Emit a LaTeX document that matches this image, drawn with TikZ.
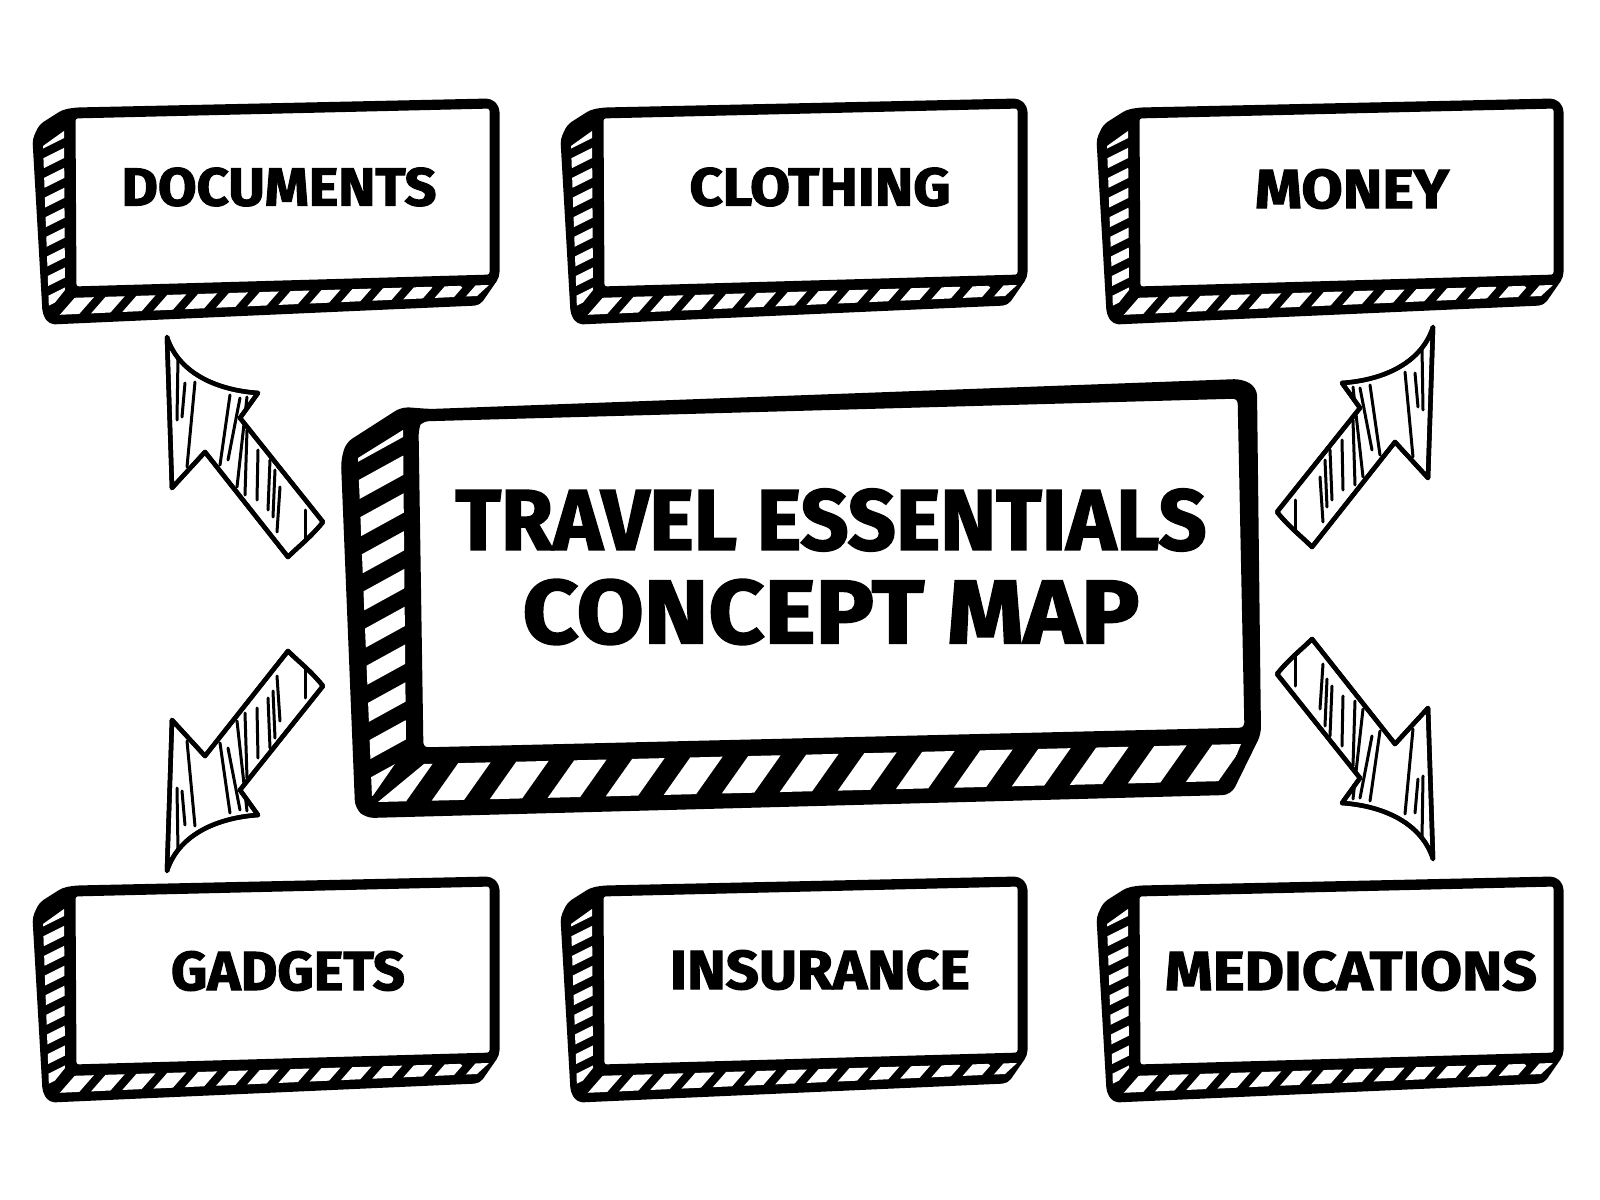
\documentclass[tikz,border=0pt]{standalone}
\usepackage{fontspec}
\usepackage{graphicx}
\newfontfamily\heavyfam{Fira Sans}[BoldFeatures={FakeBold=2}]
\newcommand\heavy{\heavyfam\bfseries}
\tikzset{
 outline/.style={draw=black, fill=black, line width=0.7mm, line join=round, rounded corners=0.4mm},
 face/.style={draw=black, fill=white, line width=0.7mm, line join=round, rounded corners=0.5mm},
 sidestripe/.style={draw=white, line width=0.9mm},
 botstripe/.style={draw=white, line width=1.4mm},
 arrowbody/.style={draw=black, fill=white, line width=0.45mm, line join=round},
 hatch/.style={draw=black, line width=0.3mm, line cap=round},
 lbl/.style={inner sep=0pt, font=\heavy},
}
\newcommand\smallbox[2]{%
\begin{scope}[shift={(#1,#2)}]
 \path[outline] (4,3) -- (-8,5) -- (-30,19) -- (-36,32) -- (-26,205) -- (-21,213) -- (406,194) -- (424,168) -- (424,0) -- (418,-6) -- cycle;
 \begin{scope}
  \clip (-29,38) -- (-8,23) -- (-7,182) -- (-23,202) -- cycle;
  \foreach \yy in {30,50,...,210} \draw[sidestripe] (-36,\yy+9) -- (0,\yy-9);
 \end{scope}
 \begin{scope}
  \clip (-4,190) -- (417,177) -- (405,188) -- (-17,207) -- cycle;
  \foreach \xx in {-40,-10,...,420} \draw[botstripe] (\xx,215) -- (\xx+35,175);
 \end{scope}
 \path[face] (0,7) -- (421,-3) -- (421,170) -- (1,182) -- cycle;
\end{scope}}
\newcommand\arrowpath{(167,337) .. controls (178,372) and (215,390) .. (258,393) -- (240,418) -- (323,522) .. controls (310,538) and (300,545) .. (288,557) -- (205,452) -- (172,488) -- cycle}
\newcommand\handarrow{%
 \path[arrowbody] \arrowpath;
 \begin{scope}
  \clip \arrowpath;
  \draw[hatch] (178,357) -- (177,420);
  \draw[hatch] (185,383) -- (182,417);
  \draw[hatch] (195,382) -- (187,467);
  \draw[hatch] (230,395) -- (220,465);
  \draw[hatch] (240,398) -- (228,460);
  \draw[hatch] (247,397) -- (237,487);
  \draw[hatch] (247,430) -- (245,495);
  \draw[hatch] (258,450) -- (257,500);
  \draw[hatch] (270,460) -- (268,510);
  \draw[hatch] (275,470) -- (273,517);
  \draw[hatch] (280,487) -- (277,532);
  \draw[hatch] (305,510) -- (305,542);
 \end{scope}
 \path[arrowbody, fill=none] \arrowpath;
}
\begin{document}
\begin{tikzpicture}[x=0.1mm, y=-0.1mm]
\fill[white] (0,0) rectangle (1600,1200);
\useasboundingbox (0,0) rectangle (1600,1200);

% small boxes
\smallbox{72}{108}
\smallbox{600}{108}
\smallbox{1136}{108}
\smallbox{72}{886}
\smallbox{600}{886}
\smallbox{1136}{886}

% main box
\path[outline, line width=1mm, rounded corners=0.6mm] (430,414) -- (403,412) -- (350,446) -- (346,462) -- (360,806) -- (368,813) -- (1228,790) -- (1256,733) -- (1252,390) -- (1240,384) -- cycle;
\begin{scope}
 \clip (358,458) -- (403,430) -- (406,748) -- (372,797) -- cycle;
 \foreach \yy in {440,478,...,840} \draw[white, line width=1.7mm] (340,\yy+22) -- (420,\yy-22);
\end{scope}
\begin{scope}
 \clip (378,802) -- (424,764) -- (1241,744) -- (1226,781) -- cycle;
 \foreach \xx in {320,377,...,1270} \draw[white, line width=2.6mm] (\xx,820) -- (\xx+60,735);
\end{scope}
\path[face, line width=1.1mm, rounded corners=1mm] (413,425) -- (418,416) -- (1243,393) -- (1250,733) -- (418,753) -- cycle;

% arrows
\begin{scope}\handarrow\end{scope}
\begin{scope}[shift={(1600,-10)}, xscale=-1]\handarrow\end{scope}
\begin{scope}[shift={(0,1208)}, yscale=-1]\handarrow\end{scope}
\begin{scope}[shift={(1600,1196)}, xscale=-1, yscale=-1]\handarrow\end{scope}

% labels
\node[lbl] (documents) at (279,187) {\resizebox{31.5mm}{3.8mm}{DOCUMENTS}};
\node[lbl] (clothing) at (820,187) {\resizebox{26.1mm}{3.8mm}{CLOTHING}};
\node[lbl] (money) at (1352,189) {\resizebox{19.4mm}{3.9mm}{MONEY}};
\node[lbl] (gadgets) at (288,971) {\resizebox{23.4mm}{3.9mm}{GADGETS}};
\node[lbl] (insurance) at (820,970) {\resizebox{30mm}{3.9mm}{INSURANCE}};
\node[lbl] (medications) at (1351,971) {\resizebox{37.2mm}{3.9mm}{MEDICATIONS}};
\node[lbl] (title1) at (831,520) {\resizebox{75.1mm}{6.1mm}{TRAVEL ESSENTIALS}};
\node[lbl] (title2) at (831,612) {\resizebox{61.7mm}{6.4mm}{CONCEPT MAP}};
\end{tikzpicture}
\end{document}
